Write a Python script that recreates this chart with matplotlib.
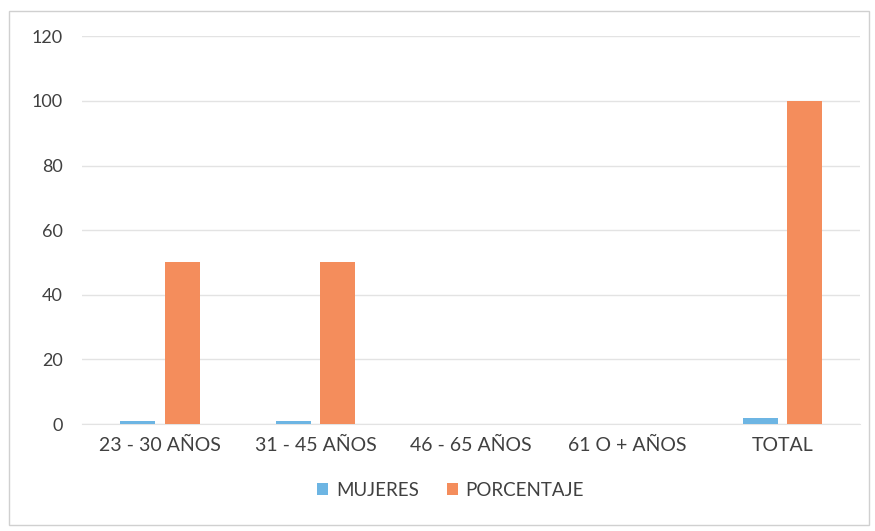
import matplotlib
matplotlib.use("Agg")
import matplotlib.pyplot as plt
import numpy as np
from matplotlib.patches import Rectangle

categories = ["23 - 30 AÑOS", "31 - 45 AÑOS", "46 - 65 AÑOS", "61 O + AÑOS", "TOTAL"]
mujeres = [1, 1, 0, 0, 2]
porcentaje = [50, 50, 0, 0, 100]
yticks = [0, 20, 40, 60, 80, 100, 120]

plt.rcParams['font.family'] = ['Lato', 'DejaVu Sans']

fig = plt.figure(figsize=(8.75, 5.31), dpi=100)
fig.patches.append(Rectangle((0.010, 0.012), 0.983, 0.968, transform=fig.transFigure,
                             fill=False, edgecolor="#d0d0d0", linewidth=1.0))
ax = fig.add_axes([0.094, 0.2015, 0.889, 0.73])

x = np.arange(len(categories))
w = 0.225
gap = 0.06
c_blue = "#6db5e3"
c_orange = "#f48d5c"
ax.bar(x - (w + gap) / 2, mujeres, w, color=c_blue, label="MUJERES", zorder=3)
ax.bar(x + (w + gap) / 2, porcentaje, w, color=c_orange, label="PORCENTAJE", zorder=3)

ax.set_xlim(-0.5, len(categories) - 0.5)
ax.set_ylim(0, 120)
ax.set_yticks(yticks)
ax.set_xticks(x)
ax.set_xticklabels(categories)
ax.grid(axis="y", color="#e3e3e3", linewidth=1.0, zorder=0)
for s in ["top", "right", "left"]:
    ax.spines[s].set_visible(False)
ax.spines["bottom"].set_color("#e3e3e3")
ax.tick_params(axis="x", length=0, labelsize=14, colors="#404040", pad=9)
ax.tick_params(axis="y", length=0, labelsize=13, colors="#404040", pad=14)

leg = fig.legend(loc="center", bbox_to_anchor=(0.515, 0.077), ncol=2, frameon=False,
                 fontsize=13.5, handlelength=0.6, handleheight=0.6, columnspacing=1.5,
                 handletextpad=0.4)
for t in leg.get_texts():
    t.set_color("#404040")

fig.savefig("out.png", dpi=100)
